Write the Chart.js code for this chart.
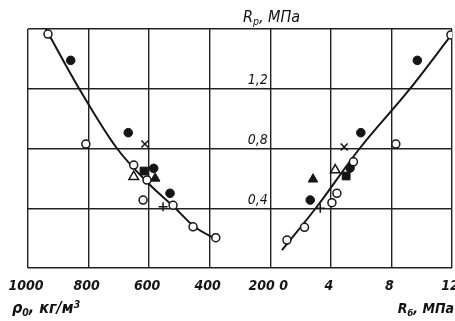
<!DOCTYPE html>
<html><head><meta charset="utf-8">
<script src="https://cdn.jsdelivr.net/npm/chart.js@4"></script>
<style>
html,body{margin:0;padding:0;background:#fff;}
#wrap{position:relative;width:455px;height:321px;overflow:hidden;background:#fff;}
canvas{position:absolute;left:0;top:0;}
.t{position:absolute;font-family:"DejaVu Sans Condensed","DejaVu Sans",sans-serif;font-style:italic;font-weight:bold;color:#111;white-space:nowrap;line-height:1;}
.t sub{font-size:0.65em;vertical-align:-0.3em;}
.t sup{font-size:0.65em;vertical-align:0.5em;}
</style></head><body>
<div id="wrap"><canvas id="c" width="455" height="321"></canvas>
<div class="t" style="left:243px;top:9px;font-size:16px;font-weight:normal;">R<sub>р</sub>, МПа</div>
<div class="t" style="left:12px;top:299px;font-size:16px;">ρ<sub>0</sub>, кг/м<sup>3</sup></div>
<div class="t" style="right:1px;top:301px;font-size:14px;">R<sub>б</sub>, МПа</div>
</div>
<script>
// Tick labels
const leftTickLabels = ['1000', '800', '600', '400', '200'];
const rightTickLabels = ['0', '4', '8', '12'];
const yTickLabels = ['', '0,4', '0,8', '1,2', ''];

// Left panel: density ρ0 (kg/m³) vs Rp (MPa)
const densOpenCircleX = [934, 809, 651, 607, 620, 521, 455, 380];
const densOpenCircleY = [1.566, 0.83, 0.689, 0.589, 0.455, 0.42, 0.276, 0.203];
const densFilledCircleX = [859, 669, 585, 531];
const densFilledCircleY = [1.39, 0.906, 0.667, 0.50];
const densFilledSquareX = [617];
const densFilledSquareY = [0.649];
const densOpenTriangleX = [651];
const densOpenTriangleY = [0.611];
const densFilledTriangleX = [580];
const densFilledTriangleY = [0.600];
const densCrossX = [614];
const densCrossY = [0.83];
const densPlusX = [554];
const densPlusY = [0.41];
const densCurveX = [941, 828, 706, 597, 521, 449, 373];
const densCurveY = [1.60, 1.19, 0.80, 0.556, 0.415, 0.274, 0.187];

// Right panel: compressive strength Rб (MPa) vs Rp (MPa)
const strOpenCircleX = [11.93, 8.29, 5.49, 4.40, 4.07, 2.26, 1.10];
const strOpenCircleY = [1.56, 0.83, 0.711, 0.50, 0.437, 0.272, 0.187];
const strFilledCircleX = [9.71, 5.98, 5.27, 2.64];
const strFilledCircleY = [1.39, 0.906, 0.669, 0.455];
const strFilledSquareX = [5.01];
const strFilledSquareY = [0.616];
const strOpenTriangleX = [4.29];
const strOpenTriangleY = [0.656];
const strFilledTriangleX = [2.82];
const strFilledTriangleY = [0.594];
const strCrossX = [4.88];
const strCrossY = [0.81];
const strPlusX = [3.30];
const strPlusY = [0.40];
const strCurveX = [0.77, 3.0, 5.9, 9.15, 11.96];
const strCurveY = [0.12, 0.40, 0.80, 1.19, 1.56];

const INK = '#151515';
function pts(xs, ys) { return xs.map((x, i) => ({x: x, y: ys[i]})); }
const styles = {
  openCircle: {pointStyle: 'circle', pointRadius: 4, pointBorderWidth: 1.5, pointBackgroundColor: '#fff', pointBorderColor: INK},
  filledCircle: {pointStyle: 'circle', pointRadius: 4.3, pointBorderWidth: 1, pointBackgroundColor: INK, pointBorderColor: INK},
  filledSquare: {pointStyle: 'rect', pointRadius: 5.5, pointBorderWidth: 1, pointBackgroundColor: INK, pointBorderColor: INK},
  openTriangle: {pointStyle: 'triangle', pointRadius: 5.5, pointBorderWidth: 1.5, pointBackgroundColor: '#fff', pointBorderColor: INK},
  filledTriangle: {pointStyle: 'triangle', pointRadius: 5.5, pointBorderWidth: 1, pointBackgroundColor: INK, pointBorderColor: INK},
  cross: {pointStyle: 'crossRot', pointRadius: 5, pointBorderWidth: 1.5, pointBackgroundColor: INK, pointBorderColor: INK},
  plus: {pointStyle: 'cross', pointRadius: 4.5, pointBorderWidth: 1.5, pointBackgroundColor: INK, pointBorderColor: INK}
};
function ds(xs, ys, style, axis) {
  return Object.assign({data: pts(xs, ys), xAxisID: axis, yAxisID: 'y', showLine: false}, styles[style]);
}
function curve(xs, ys, axis) {
  return {data: pts(xs, ys), xAxisID: axis, yAxisID: 'y', showLine: true, borderColor: INK, borderWidth: 2,
    pointRadius: 0, cubicInterpolationMode: 'monotone', fill: false};
}

const datasets = [
  ds(densOpenCircleX, densOpenCircleY, 'openCircle', 'xL'),
  ds(densFilledCircleX, densFilledCircleY, 'filledCircle', 'xL'),
  ds(densFilledSquareX, densFilledSquareY, 'filledSquare', 'xL'),
  ds(densOpenTriangleX, densOpenTriangleY, 'openTriangle', 'xL'),
  ds(densFilledTriangleX, densFilledTriangleY, 'filledTriangle', 'xL'),
  ds(densCrossX, densCrossY, 'cross', 'xL'),
  ds(densPlusX, densPlusY, 'plus', 'xL'),
  ds(strOpenCircleX, strOpenCircleY, 'openCircle', 'x'),
  ds(strFilledCircleX, strFilledCircleY, 'filledCircle', 'x'),
  ds(strFilledSquareX, strFilledSquareY, 'filledSquare', 'x'),
  ds(strOpenTriangleX, strOpenTriangleY, 'openTriangle', 'x'),
  ds(strFilledTriangleX, strFilledTriangleY, 'filledTriangle', 'x'),
  ds(strCrossX, strCrossY, 'cross', 'x'),
  ds(strPlusX, strPlusY, 'plus', 'x'),
  curve(densCurveX, densCurveY, 'xL'),
  curve(strCurveX, strCurveY, 'x')
];

const tickFont = {family: '"DejaVu Sans Condensed", "DejaVu Sans", sans-serif', style: 'italic', weight: 'bold', size: 14};
const yFont = {family: '"DejaVu Sans Condensed", "DejaVu Sans", sans-serif', style: 'italic', weight: 'normal', size: 14};

new Chart(document.getElementById('c'), {
  type: 'scatter',
  data: {datasets: datasets},
  options: {
    responsive: false, animation: false, devicePixelRatio: 1,
    layout: {autoPadding: false, padding: {left: 28, top: 29, right: 3, bottom: 0}},
    plugins: {legend: {display: false}, tooltip: {enabled: false}},
    scales: {
      x: {
        type: 'linear', position: 'bottom', min: -16, max: 12,
        ticks: {
          stepSize: 4, autoSkip: false, maxRotation: 0, color: INK, font: tickFont, padding: 10, labelOffset: -2,
          callback: function (v) {
            const i = Math.round((v + 16) / 4);
            if (i < 4) return leftTickLabels[i];
            if (i === 4) return leftTickLabels[4] + ' ' + rightTickLabels[0];
            return rightTickLabels[i - 4];
          }
        },
        grid: {color: '#222', lineWidth: 1.4, drawTicks: false},
        border: {display: false},
        afterFit: function (s) { s.height = 53; s.paddingLeft = 0; s.paddingRight = 0; }
      },
      xL: {type: 'linear', display: false, reverse: true, min: -400, max: 1000},
      y: {
        type: 'linear', min: 0, max: 1.6, position: {x: 0},
        ticks: {
          stepSize: 0.4, color: INK, font: yFont, padding: 0, labelOffset: -8,
          callback: function (v) { return yTickLabels[Math.round(v / 0.4)] + '\u2009'; }
        },
        grid: {color: '#222', lineWidth: 1.4, drawTicks: false},
        border: {display: false},
        afterFit: function (s) { s.paddingTop = 0; s.paddingBottom = 0; }
      }
    }
  }
});
</script>
</body></html>
